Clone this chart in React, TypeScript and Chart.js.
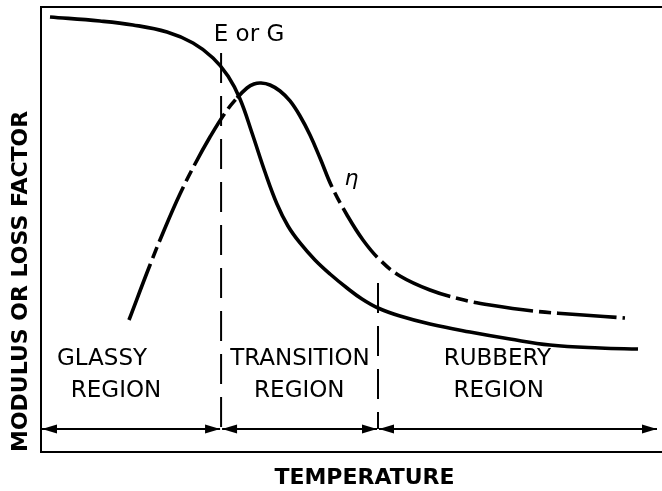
import React, { useEffect, useRef } from "react";
import { Chart, registerables } from "chart.js";

Chart.register(...registerables);

// Temperature in arbitrary units (0 = left frame), response in % of frame height
const modulusTemp = [1.45, 9.5, 14.81, 20.29, 24.48, 27.7, 30.11, 32.05, 33.98, 36.07, 38.0, 39.77, 41.71, 44.12, 46.54, 49.28, 51.69, 54.27, 57.81, 62.64, 69.08, 75.52, 81.96, 90.02, 96.14];
const modulusValue = [97.75, 96.85, 95.96, 94.38, 91.91, 88.54, 84.49, 79.33, 71.69, 62.92, 55.73, 50.79, 46.97, 43.15, 40.0, 36.85, 34.38, 32.36, 30.56, 28.76, 26.97, 25.39, 24.04, 23.37, 23.15];

const lossTemp = [14.17, 17.55, 19.97, 22.38, 24.8, 27.21, 29.63, 31.56, 33.17, 34.3, 35.43, 36.88, 38.49, 40.1, 41.71, 43.32, 44.93, 46.86, 49.28, 51.85, 54.59, 57.81, 62.64, 67.47, 72.3, 79.23, 87.28, 94.04];
const lossValue = [29.66, 42.02, 50.34, 57.98, 64.72, 70.79, 76.18, 79.55, 81.8, 82.7, 82.92, 82.47, 81.12, 78.88, 75.51, 71.24, 66.07, 59.55, 53.26, 47.64, 43.15, 39.55, 36.4, 34.38, 33.03, 31.69, 30.79, 30.11];

// Region boundaries (temperature) and where the boundary lines start
const regionBounds = [0, 29.0, 54.27, 99.36];
const boundaryTemps = [29.0, 54.27];
const boundaryTops = [89.66, 37.98];
const arrowLevel = 5.17;

const regionLines = [
  ["GLASSY", "REGION"],
  ["TRANSITION", "REGION"],
  ["RUBBERY", "REGION"],
];
const curveLabels = ["E or G", "\u03b7"];

// label anchor positions (layout)
const REGION_LABEL_X = [
  [9.82, 12.08],
  [41.7, 41.6],
  [73.5, 73.7],
];
const REGION_LABEL_Y = [19.55, 12.36];
const CURVE_LABEL_POS = [
  { x: 33.5, y: 92.4 },
  { x: 50.0, y: 60.0 },
];
const SOLID_FROM = 31.56;
const SOLID_TO = 46.86;
const X_MAX = 104.19;
const FONT = '"DejaVu Sans", Verdana, sans-serif';
const DASH = [60, 6, 12, 6];

const annotate = {
  id: "annotate",
  afterDatasetsDraw(chart: any) {
    const { ctx, scales } = chart;
    const xs = scales.x;
    const ys = scales.y;
    ctx.save();
    ctx.strokeStyle = "#000";
    ctx.fillStyle = "#000";
    ctx.lineWidth = 2;
    const ay = ys.getPixelForValue(arrowLevel);
    const head = (tip: number, dir: number) => {
      ctx.beginPath();
      ctx.moveTo(tip, ay);
      ctx.lineTo(tip + dir * 15, ay - 4.5);
      ctx.lineTo(tip + dir * 15, ay + 4.5);
      ctx.closePath();
      ctx.fill();
    };
    for (let i = 0; i < regionBounds.length - 1; i++) {
      const x0 = xs.getPixelForValue(regionBounds[i]) + 1;
      const x1 = xs.getPixelForValue(regionBounds[i + 1]) - 1;
      ctx.beginPath();
      ctx.moveTo(x0, ay);
      ctx.lineTo(x1, ay);
      ctx.stroke();
      head(x0, 1);
      head(x1, -1);
    }
    ctx.textAlign = "center";
    ctx.textBaseline = "alphabetic";
    ctx.font = `23px ${FONT}`;
    regionLines.forEach((lines, i) => {
      lines.forEach((t, j) => {
        ctx.fillText(t, xs.getPixelForValue(REGION_LABEL_X[i][j]), ys.getPixelForValue(REGION_LABEL_Y[j]));
      });
    });
    ctx.font = `23px ${FONT}`;
    ctx.fillText(curveLabels[0], xs.getPixelForValue(CURVE_LABEL_POS[0].x), ys.getPixelForValue(CURVE_LABEL_POS[0].y));
    ctx.font = `italic 22px ${FONT}`;
    ctx.fillText(curveLabels[1], xs.getPixelForValue(CURVE_LABEL_POS[1].x), ys.getPixelForValue(CURVE_LABEL_POS[1].y));
    ctx.restore();
  },
};

export default function App() {
  const ref = useRef<HTMLCanvasElement>(null);
  useEffect(() => {
    Chart.defaults.font.family = FONT;
    const solid = (c: any) => lossTemp[c.p0DataIndex] >= SOLID_FROM - 1e-6 && lossTemp[c.p1DataIndex] <= SOLID_TO + 1e-6;
    const datasets: any[] = [
      {
        label: "E or G",
        data: modulusTemp.map((x, i) => ({ x, y: modulusValue[i] })),
        borderColor: "#000",
        borderWidth: 3.6,
        pointRadius: 0,
        tension: 0.4,
        fill: false,
      },
      {
        label: "\u03b7",
        data: lossTemp.map((x, i) => ({ x, y: lossValue[i] })),
        borderColor: "#000",
        borderWidth: 3.6,
        pointRadius: 0,
        tension: 0.4,
        fill: false,
        borderDash: DASH,
        segment: {
          borderDash: (c: any) => (solid(c) ? [] : DASH),
          borderDashOffset: (c: any) => (lossTemp[c.p0DataIndex] >= SOLID_TO - 1e-6 ? 60 : 0),
        },
      },
      ...boundaryTemps.map((b, i) => ({
        label: "boundary " + (i + 1),
        data: [
          { x: b, y: boundaryTops[i] },
          { x: b, y: arrowLevel },
        ],
        borderColor: "#000",
        borderWidth: 2,
        borderDash: [30, 13],
        pointRadius: 0,
        fill: false,
      })),
    ];
    const chart = new Chart(ref.current as HTMLCanvasElement, {
      type: "line",
      data: { datasets },
      options: {
        animation: false,
        responsive: false,
        devicePixelRatio: 1,
        layout: { padding: { top: 7, right: 0, bottom: 0, left: 0 } },
        plugins: { legend: { display: false }, tooltip: { enabled: false }, title: { display: false } },
        scales: {
          x: {
            type: "linear",
            position: "bottom",
            min: 0,
            max: X_MAX,
            ticks: { display: false },
            grid: { display: false, drawTicks: false },
            border: { display: true, color: "#000", width: 2 },
            title: {
              display: true,
              text: "TEMPERATURE",
              color: "#000",
              font: { family: FONT, size: 22, weight: "bold", lineHeight: 1.2 },
              padding: { top: 0, bottom: 0 },
            },
            afterFit: (s: any) => {
              s.height = 39;
            },
          },
          xTop: {
            type: "linear",
            position: "top",
            min: 0,
            max: X_MAX,
            ticks: { display: false },
            grid: { display: false, drawTicks: false },
            border: { display: true, color: "#000", width: 2 },
            afterFit: (s: any) => {
              s.height = 0;
            },
          },
          y: {
            type: "linear",
            position: "left",
            min: 0,
            max: 100,
            ticks: { display: false },
            grid: { display: false, drawTicks: false },
            border: { display: true, color: "#000", width: 2 },
            title: {
              display: true,
              text: "MODULUS OR LOSS FACTOR",
              align: "start",
              color: "#000",
              font: { family: FONT, size: 22, weight: "bold", lineHeight: 1.2 },
              padding: { top: 8, bottom: 0 },
            },
            afterFit: (s: any) => {
              s.width = 41;
            },
          },
        },
      } as any,
      plugins: [annotate],
    });
    return () => chart.destroy();
  }, []);
  return (
    <div style={{ position: "fixed", left: 0, top: 0, width: 662, height: 491, overflow: "hidden", background: "#fff" }}>
      <canvas ref={ref} width={688} height={491} style={{ display: "block", width: 688, height: 491 }} />
    </div>
  );
}
